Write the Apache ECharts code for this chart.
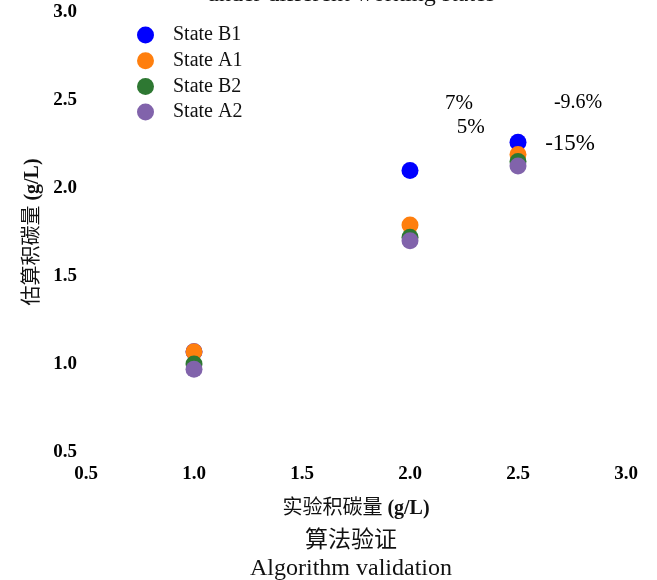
<!DOCTYPE html>
<html>
<head>
<meta charset="utf-8">
<script src="https://cdn.jsdelivr.net/npm/echarts@6/dist/echarts.min.js"></script>
<style>
  html, body { margin: 0; padding: 0; background: #fff; }
  #chart { width: 657px; height: 580px; }
</style>
</head>
<body>
<div id="chart"></div>
<script>
// Experimental vs. estimated carbon deposition for each working state
const experimental = [1.0, 2.0, 2.5];
const stateB1 = [1.07, 2.10, 2.26];
const stateA1 = [1.07, 1.79, 2.19];
const stateB2 = [1.00, 1.72, 2.15];
const stateA2 = [0.97, 1.70, 2.125];
const seriesNames = ['State B1', 'State A1', 'State B2', 'State A2'];
const seriesColors = ['#0000ff', '#ff7f0e', '#2e7832', '#8163ab'];

// Relative-error notes placed in data space
const noteText = ['7%', '5%', '-9.6%', '-15%'];
const noteX = [2.227, 2.281, 2.778, 2.741];
const noteY = [2.483, 2.341, 2.483, 2.25];
const noteSize = [21, 21, 20, 23];

const axisTicks = [0.5, 1.0, 1.5, 2.0, 2.5, 3.0];

const serif = '"Liberation Serif", "Times New Roman", serif';
const cjk = '"Liberation Serif", "Noto Sans CJK SC", serif';

const chart = echarts.init(document.getElementById('chart'));

const valueSets = [stateB1, stateA1, stateB2, stateA2];
const scatterSeries = valueSets.map((vals, i) => ({
  name: seriesNames[i],
  type: 'scatter',
  symbol: 'circle',
  symbolSize: 17,
  itemStyle: { color: seriesColors[i], opacity: 1 },
  data: experimental.map((x, j) => [x, vals[j]]),
  z: 2 + i
}));

const noteSeries = {
  type: 'scatter',
  symbolSize: 1,
  silent: true,
  itemStyle: { color: 'rgba(0,0,0,0)', opacity: 1 },
  data: noteText.map((t, i) => ({
    value: [noteX[i], noteY[i]],
    name: t,
    label: { fontSize: noteSize[i] }
  })),
  label: {
    show: true,
    position: 'inside',
    formatter: p => p.name,
    color: '#000',
    opacity: 1,
    textBorderWidth: 0,
    fontFamily: serif,
    fontSize: 20
  },
  z: 10
};

chart.setOption({
  animation: false,
  backgroundColor: '#fff',
  legend: {
    data: seriesNames,
    orient: 'vertical',
    left: 132,
    top: 20,
    itemWidth: 17,
    itemHeight: 17,
    itemGap: 5.7,
    icon: 'circle',
    textStyle: { fontFamily: serif, fontSize: 20, color: '#111', padding: [0, 0, 0, 14] }
  },
  grid: { left: 86, right: 31, top: 12, bottom: 128, containLabel: false },
  xAxis: {
    type: 'value',
    min: axisTicks[0],
    max: axisTicks[axisTicks.length - 1],
    interval: 0.5,
    name: '实验积碳量 {b|(g/L)}',
    nameLocation: 'middle',
    nameGap: 47,
    nameTextStyle: {
      fontFamily: cjk, fontSize: 20, color: '#111',
      rich: { b: { fontFamily: serif, fontSize: 20, fontWeight: 'bold', color: '#111' } }
    },
    axisLine: { show: false },
    axisTick: { show: false },
    splitLine: { show: false },
    axisLabel: {
      margin: 13,
      fontFamily: serif, fontSize: 19, fontWeight: 'bold', color: '#000',
      formatter: v => v.toFixed(1)
    }
  },
  yAxis: {
    type: 'value',
    min: axisTicks[0],
    max: axisTicks[axisTicks.length - 1],
    interval: 0.5,
    name: '估算积碳量 {b|(g/L)}',
    nameLocation: 'middle',
    nameGap: 39,
    nameRotate: 90,
    nameTextStyle: {
      fontFamily: cjk, fontSize: 20, color: '#111',
      rich: { b: { fontFamily: serif, fontSize: 20, fontWeight: 'bold', color: '#111' } }
    },
    axisLine: { show: false },
    axisTick: { show: false },
    splitLine: { show: false },
    axisLabel: {
      margin: 9,
      fontFamily: serif, fontSize: 19, fontWeight: 'bold', color: '#000',
      formatter: v => v.toFixed(1)
    }
  },
  graphic: [
    {
      type: 'text',
      x: 351,
      y: -5,
      style: { text: 'under different working states', font: '24px ' + serif, fill: '#111', align: 'center', verticalAlign: 'middle' }
    },
    {
      type: 'text',
      x: 351,
      y: 541,
      style: { text: '算法验证', font: '23px ' + cjk, fill: '#111', align: 'center', verticalAlign: 'middle' }
    },
    {
      type: 'text',
      x: 351,
      y: 569,
      style: { text: 'Algorithm validation', font: '24px ' + serif, fill: '#111', align: 'center', verticalAlign: 'middle' }
    }
  ],
  series: scatterSeries.concat([noteSeries])
});
</script>
</body>
</html>
